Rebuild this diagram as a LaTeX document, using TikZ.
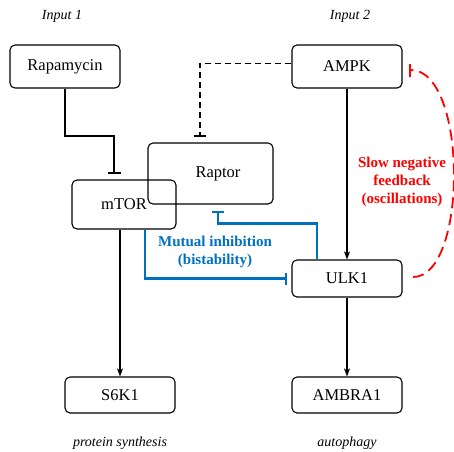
\documentclass[tikz,border=0pt]{standalone}
\usepackage{fontspec}
\setmainfont{LiberationSerif}[Extension=.ttf, UprightFont=*-Regular, BoldFont=*-Bold, ItalicFont=*-Italic, BoldItalicFont=*-BoldItalic]
\usetikzlibrary{arrows.meta}
\definecolor{myblue}{RGB}{0,112,192}
\definecolor{myred}{RGB}{255,0,0}
\begin{document}
\begin{tikzpicture}[x=1pt,y=-1pt,
  box/.style={draw, rounded corners=5pt, line width=1.1pt, inner sep=0pt,
    font=\fontsize{16.5}{19}\selectfont},
  lbl/.style={font=\fontsize{14}{16}\selectfont\itshape},
  arr/.style={line width=1.2pt, -{Stealth[length=8pt,width=6pt,inset=2pt]}},
  bluetxt/.style={text=myblue, font=\fontsize{15}{18}\selectfont\bfseries, align=center},
  redtxt/.style={text=myred, font=\fontsize{15}{18}\selectfont\bfseries, align=center}]
\useasboundingbox (0,0) rectangle (454,451);
\node[lbl] (in1) at (62,16) {Input 1};
\node[lbl] (in2) at (350,16) {Input 2};
\node[box, minimum width=110pt, minimum height=43pt] (rap) at (65,66.5) {Rapamycin};
\node[box, minimum width=110pt, minimum height=43pt] (ampk) at (347,66.5) {AMPK};
\node[box, minimum width=104pt, minimum height=49pt] (mtor) at (124,204.5) {\raisebox{-3pt}{mTOR}};
\node[box, minimum width=125pt, minimum height=61pt] (raptor) at (210.5,173.5) {\hspace*{15pt}Raptor};
\node[box, minimum width=110pt, minimum height=37pt] (ulk) at (347,278.5) {ULK1};
\node[box, minimum width=110pt, minimum height=36pt] (s6k) at (120,395) {S6K1};
\node[box, minimum width=110pt, minimum height=36pt] (ambra) at (347,395) {AMBRA1};
\node[lbl] (ps) at (120,443) {protein synthesis};
\node[lbl] (aut) at (347,443) {autophagy};
\node[bluetxt] (mi) at (215,252) {Mutual inhibition\\(bistability)};
\node[redtxt] (snf) at (402,182) {Slow negative\\feedback\\(oscillations)};
% coordinates for inhibition ends
\coordinate (rapbar) at (114,173.5);
\coordinate (raptorbar) at (200,137);
\coordinate (ulkbar) at (287,278.5);
\coordinate (raptorbar2) at (218,211);
\coordinate (ampkbar) at (409,70);
\coordinate (redstart) at (413,277);
% connectors
\draw[line width=2.4pt, -{Bar[width=13pt,line width=1.8pt]}] (rap.south) -- ++(0,47.5) -| (rapbar);
\draw[line width=1.8pt, dash pattern=on 6pt off 4pt, -{Bar[width=12pt,line width=1.8pt]}] ([yshift=3pt]ampk.west) -| (raptorbar);
\draw[arr] (ampk.south) -- (ulk.north);
\draw[arr] (s6k.north |- mtor.south) -- (s6k.north);
\draw[arr] (ulk.south) -- (ambra.north);
\draw[myblue, line width=2.4pt, -{Bar[width=12pt,line width=1.8pt]}] ([xshift=21pt]mtor.south) |- (ulkbar);
\draw[myblue, line width=2.4pt, -{Bar[width=12pt,line width=1.8pt]}] ([xshift=-30pt]ulk.north) -- ++(0,-36) -| (raptorbar2);
\draw[myred, line width=1.8pt, dash pattern=on 11pt off 6pt, -{Bar[width=13pt,line width=2.4pt]}]
  (redstart) .. controls (468,277) and (468,70) .. (ampkbar);
\end{tikzpicture}
\end{document}
